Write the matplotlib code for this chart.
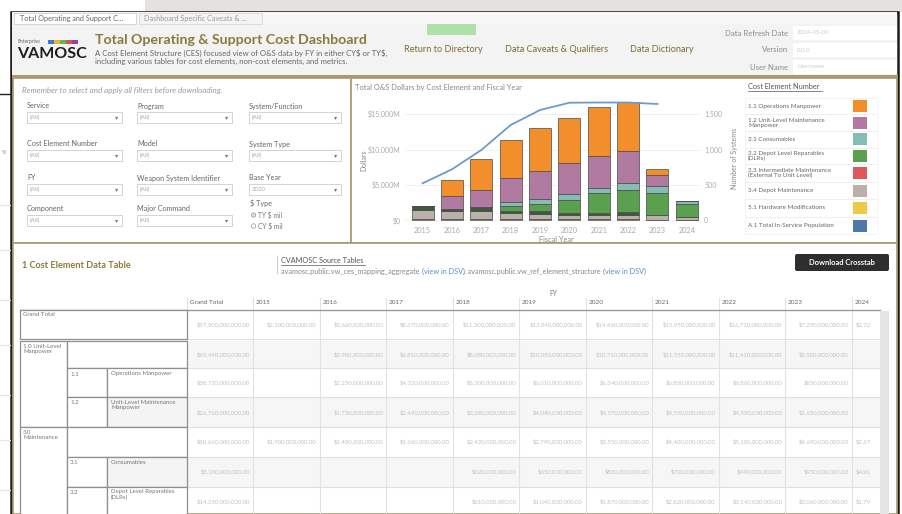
import matplotlib.pyplot as plt
from matplotlib.patches import Rectangle, FancyBboxPatch

plt.rcParams['font.family'] = ['Lato', 'DejaVu Sans']
plt.rcParams['text.parse_math'] = False

years = ['2015', '2016', '2017', '2018', '2019', '2020', '2021', '2022', '2023', '2024']
# O&S dollars by cost element, $M
ops_manpower = [0, 2250, 4320, 5300, 6010, 6340, 6800, 6860, 850, 0]
ulm_manpower = [0, 1730, 2490, 3380, 4040, 4370, 4550, 4550, 1650, 0]
consumables = [0, 0, 0, 620, 650, 800, 700, 940, 930, 460]
dlrs = [0, 0, 0, 610, 1040, 1870, 2820, 3140, 3060, 1790]
intermediate = [0, 0, 0, 0, 0, 0, 0, 0, 0, 0]
other_maint = [560, 380, 460, 320, 370, 340, 340, 480, 0, 0]
depot_maint = [1340, 1100, 1200, 870, 730, 540, 540, 540, 700, 420]
hw_mods = [200, 200, 200, 200, 200, 200, 200, 200, 100, 50]
# total in-service population (right axis)
line_years = years[:9]
population = [524, 721, 993, 1345, 1556, 1659, 1662, 1662, 1641]

legend_labels = ['1.1 Operations Manpower', '1.2 Unit-Level Maintenance\nManpower', '3.1 Consumables',
                 '3.2 Depot Level Reparables\n(DLRs)', '3.3 Intermediate Maintenance\n(External To Unit Level)',
                 '3.4 Depot Maintenance', '5.1 Hardware Modifications', 'A.1 Total In-Service Population']
legend_colors = ['#f28e2b', '#b07aa1', '#86bcb6', '#59a14f', '#e15759', '#bab0ac', '#edc948', '#4e79a7']

gold = '#a99a6b'
olive = '#7d6c2c'

fig = plt.figure(figsize=(9.02, 5.14), dpi=100)
bg = fig.add_axes([0, 0, 1, 1])
bg.set_xlim(0, 902)
bg.set_ylim(514, 0)
bg.axis('off')


def box(x, y, w, h, fc='none', ec='none', lw=0.8, z=1):
    bg.add_patch(Rectangle((x, y), w, h, facecolor=fc, edgecolor=ec, linewidth=lw, zorder=z))


def txt(x, y, s, size=4, color='#555555', **kw):
    return bg.text(x, y, s, fontsize=size, color=color, va=kw.pop('va', 'center'), **kw)


# outside / window frame
box(145, 0, 757, 12, fc='#e4e1de', z=0)
bg.plot([0, 10], [94, 94], color='#222222', lw=1)
for yy in [205, 250, 300, 345, 395, 440, 490]:
    bg.plot([0, 10], [yy, yy], color='#e6e6e6', lw=0.8)
txt(2, 152, "%'", size=3.5, color='#777777')
box(11, 12, 887, 510, fc='white', ec='#1a1a1a', lw=1.8, z=1)

# tabs
box(12, 12, 885, 12, fc='#f7f7f7', z=2)
box(14, 13, 122, 11, fc='white', ec='#cfcfcf', lw=0.6, z=3)
box(139, 13, 123, 11, fc='#f4f4f4', ec='#d8d8d8', lw=0.6, z=3)
txt(20, 18.5, 'Total Operating and Support C...', size=5.2, color='#666666', zorder=4)
txt(144, 18.5, 'Dashboard Specific Caveats & ...', size=5.2, color='#999999', zorder=4)

# header
box(12, 24, 885, 52, fc='#f3f3f3', z=2)
txt(18, 42, 'Enterprise', size=3.6, color='#666666', zorder=4)
for i, c in enumerate(['#3a7dc4', '#f0b323', '#5cb85c', '#d9534f', '#8e44ad']):
    box(48 + i * 6, 40, 6, 4, fc=c, z=4)
txt(17, 54, 'VAMOSC', size=11.5, color='#1e1e1e', weight='bold', zorder=4)
txt(95, 40, 'Total Operating & Support Cost Dashboard', size=10.2, color='#8c7a3c', weight='bold', zorder=4)
txt(95, 53, 'A Cost Element Structure (CES) focused view of O&S data by FY in either CY$ or TY$,',
    size=5.6, color='#666666', zorder=4)
txt(95, 61.5, 'including various tables for cost elements, non-cost elements, and metrics.',
    size=5.6, color='#666666', zorder=4)
box(427, 24, 49, 11, fc='#aee0a8', z=3)
for s, xc in [('Return to Directory', 443), ('Data Caveats & Qualifiers', 557), ('Data Dictionary', 662)]:
    txt(xc, 50, s, size=6.6, color=olive, ha='center', zorder=4)
for s, yy, v in [('Data Refresh Date', 33, '2024-05-06'), ('Version', 50, '0.0.0'), ('User Name', 67, 'Username')]:
    txt(788, yy, s, size=5.6, color='#8a8a8a', ha='right', zorder=4)
    box(793, yy - 7, 104, 14, fc='white', z=3)
    txt(797, yy, v, size=4.4, color='#cccccc', zorder=4)
box(12, 75, 886, 3, fc=gold, z=5)

# filter panel
box(13, 78, 338, 165, fc='white', ec=gold, lw=1.2, z=2)
txt(22, 90, 'Remember to select and apply all filters before downloading.', size=5.8,
    color='#999999', style='italic', zorder=4)
filter_labels = [['Service', 'Program', 'System/Function'],
                 ['Cost Element Number', 'Model', 'System Type'],
                 ['FY', 'Weapon System Identifier', 'Base Year'],
                 ['Component', 'Major Command', None]]
row_y = [106, 144, 178, 209]
col_x = [27, 137, 249]
for r, labels in enumerate(filter_labels):
    for c, lab in enumerate(labels):
        if lab is None:
            continue
        x0, y0 = col_x[c], row_y[r]
        txt(x0, y0, lab, size=5.2, color='#666666', zorder=4)
        bw = 95 if c < 2 else 92
        box(x0, y0 + 6, bw, 10.5, fc='white', ec='#cccccc', lw=0.6, z=3)
        txt(x0 + 3, y0 + 11.3, '2020' if lab == 'Base Year' else '(All)', size=4.4, color='#aaaaaa', zorder=4)
        txt(x0 + bw - 5, y0 + 11.3, '\u25be', size=4.5, color='#777777', ha='center', zorder=4)
txt(250, 203, '$ Type', size=5.2, color='#666666', zorder=4)
txt(258, 215, 'TY $ mil', size=4.8, color='#777777', zorder=4)
txt(258, 226, 'CY $ mil', size=4.8, color='#777777', zorder=4)
bg.scatter([253.5, 253.5], [215, 226], s=10, facecolor=['#dddddd', 'white'], edgecolor='#999999',
           linewidth=0.5, zorder=4)

# chart panel
box(351, 78, 546, 165, fc='white', ec=gold, lw=1.2, z=2)
txt(355, 87.5, 'Total O&S Dollars by Cost Element and Fiscal Year', size=5.4, color='#888888', zorder=4)
txt(364, 160, 'Dollars', size=5, color='#888888', rotation=90, ha='center', zorder=4)
txt(735, 158, 'Number of Systems', size=5, color='#888888', rotation=90, ha='center', zorder=4)
txt(556, 239.5, 'Fiscal Year', size=5.3, color='#888888', ha='center', zorder=4)

# legend
txt(748, 86.5, 'Cost Element Number', size=5.3, color='#555555', zorder=4)
bg.plot([748, 822], [90.5, 90.5], color='#555555', lw=0.5, zorder=4)
row_edges = [98, 114.3, 131, 147.7, 164.3, 182.3, 199, 216.7, 234.3]
for i, (lab, col) in enumerate(zip(legend_labels, legend_colors)):
    y0, y1 = row_edges[i], row_edges[i + 1]
    box(745, y0, 132, y1 - y0, fc='none', ec='#eeeeee', lw=0.5, z=3)
    txt(748, (y0 + y1) / 2, lab, size=4.5, color='#666666', zorder=4, linespacing=1.0)
    box(853, (y0 + y1) / 2 - 6, 14, 12, fc=col, z=4)

# bar chart
ax = fig.add_axes([405 / 902, 1 - 222.5 / 514, 295 / 902, 130.5 / 514])
ax.set_facecolor('none')
xs = list(range(len(years)))
stack = [(hw_mods, '#edc948'), (depot_maint, '#bab0ac'), (other_maint, '#3f5a3a'),
         (dlrs, '#59a14f'), (intermediate, '#e15759'), (consumables, '#86bcb6'),
         (ulm_manpower, '#b07aa1'), (ops_manpower, '#f28e2b')]
bottom = [0] * len(years)
for vals, col in stack:
    ax.bar(xs, vals, bottom=bottom, width=0.75, color=col, edgecolor='#4a4a4a', linewidth=0.5, zorder=3)
    bottom = [b + v for b, v in zip(bottom, vals)]
ax.set_xlim(-0.6, 9.45)
ax.set_ylim(-282, 18099)
ax.set_yticks([0, 5000, 10000, 15000])
ax.set_yticklabels(['$0', '$5,000M', '$10,000M', '$15,000M'])
ax.set_xticks(xs)
ax.set_xticklabels(years)
ax.tick_params(length=0, labelsize=5, labelcolor='#aaaaaa', pad=3)
ax.tick_params(axis='x', labelsize=5.3)
ax.grid(axis='y', color='#eeeeee', lw=0.6, zorder=0)
for s in ax.spines.values():
    s.set_visible(False)
ax2 = ax.twinx()
ax2.plot(range(len(line_years)), population, color='#6b9bcc', lw=1.3, zorder=5)
ax2.set_ylim(-28.2, 1809.9)
ax2.set_yticks([0, 500, 1000, 1500])
ax2.set_yticklabels(['0', '500', '1,000', '1,500'])
ax2.tick_params(length=0, labelsize=5, labelcolor='#aaaaaa', pad=3)
for s in ax2.spines.values():
    s.set_visible(False)

# table panel
box(13, 243, 884, 271, fc='white', ec=gold, lw=1.2, z=2)
txt(22, 265, '1 Cost Element Data Table', size=6.6, color='#8c7a3c', weight='bold', zorder=4)
bg.plot([277, 277], [256, 273], color='#cccccc', lw=0.8, zorder=4)
txt(281, 260.5, 'CVAMOSC Source Tables', size=5.2, color='#555555', zorder=4)
bg.plot([281, 365], [264.5, 264.5], color='#555555', lw=0.5, zorder=4)
src = [('avamosc.public.vw_ces_mapping_aggregate ', '#888888'), ('(view in DSV)', '#5b8cc0'),
       (', avamosc.public.vw_ref_element_structure ', '#888888'), ('(view in DSV)', '#5b8cc0')]
renderer = fig.canvas.get_renderer()
xx = 281
for s, c in src:
    t = bg.text(xx, 271.5, s, fontsize=5.2, color=c, va='center', zorder=4)
    xx += t.get_window_extent(renderer=renderer).width
bg.add_patch(FancyBboxPatch((795, 254), 94, 17, boxstyle='round,pad=0,rounding_size=2',
                            facecolor='#2e2e2e', edgecolor='none', zorder=4))
txt(842, 262.5, 'Download Crosstab', size=5.4, color='white', ha='center', weight='bold', zorder=5)

# table
col_w = 66.5
col0 = 186.7
txt(553, 293, 'FY', size=4.8, color='#777777', ha='center', zorder=4)
headers = ['Grand Total'] + years
for i, h in enumerate(headers):
    x0 = col0 + i * col_w
    bg.plot([x0, x0], [298, 514], color='#e2e2e2', lw=0.8, zorder=3)
    txt(x0 + 3, 303, h, size=4.6, color='#666666', zorder=4)
bg.plot([20, 880], [309.5, 309.5], color='#9a9a9a', lw=1.0, zorder=4)

maint = [a + b + c + d + e for a, b, c, d, e in zip(consumables, dlrs, intermediate, other_maint, depot_maint)]
grand = [a + b + c + d for a, b, c, d in zip(ops_manpower, ulm_manpower, maint, hw_mods)]
rows = [
    ('grand', grand),
    ('1.0', [a + b for a, b in zip(ops_manpower, ulm_manpower)]),
    ('1.1', ops_manpower),
    ('1.2', ulm_manpower),
    ('3.0', maint),
    ('3.1', consumables),
    ('3.2', dlrs),
]
row_bounds = [(310, 339), (340.7, 368.3), (368.3, 397.3), (397.3, 426.7),
              (426.7, 456.7), (456.7, 486.7), (486.7, 516)]
shaded = {'1.0', '1.2', '3.1'}
for (key, vals), (y0, y1) in zip(rows, row_bounds):
    if key in shaded:
        box(col0, y0, 880 - col0, y1 - y0, fc='#f6f6f6', z=2)
    bg.plot([col0, 880], [y1, y1], color='#e0e0e0', lw=0.8, zorder=3)
    cells = [sum(vals)] + list(vals)
    for i, v in enumerate(cells):
        if v == 0:
            continue
        s = '${:,.2f}'.format(v * 1e6)
        if i == len(cells) - 1:
            # last column is cut off by the scrollbar
            txt(856, (y0 + y1) / 2, s[:5], size=4.3, color='#c2c2c2', zorder=4)
        else:
            x1 = col0 + (i + 1) * col_w - 3
            txt(x1, (y0 + y1) / 2, s, size=4.3, color='#c2c2c2', ha='right', zorder=4)

# row header cells
lc = '#8f8f8f'
ls = 4.4
box(20, 310, col0 - 20, 28.5, fc='white', ec=lc, lw=0.9, z=4)
txt(23, 315, 'Grand Total', size=ls, color='#777777', zorder=5)
box(20, 340.7, 46.7, 86, fc='white', ec=lc, lw=0.9, z=4)
txt(23, 343.5, '1.0 Unit-Level\nManpower', size=ls, color='#777777', zorder=5, va='top', linespacing=1.15)
box(66.7, 340.7, col0 - 66.7, 27.6, fc='white', ec=lc, lw=0.9, z=4)
box(66.7, 368.3, 40, 29, fc='white', ec=lc, lw=0.9, z=4)
box(106.7, 368.3, 80, 29, fc='white', ec=lc, lw=0.9, z=4)
txt(70, 374, '1.1', size=ls, color='#777777', zorder=5)
txt(111, 374, 'Operations Manpower', size=ls, color='#777777', zorder=5)
box(66.7, 397.3, 40, 29.4, fc='white', ec=lc, lw=0.9, z=4)
box(106.7, 397.3, 80, 29.4, fc='#f4f4f4', ec=lc, lw=0.9, z=4)
txt(70, 403, '1.2', size=ls, color='#777777', zorder=5)
txt(111, 399.5, 'Unit-Level Maintenance\nManpower', size=ls, color='#777777', zorder=5,
    va='top', linespacing=1.15)
box(20, 426.7, 46.7, 90, fc='white', ec=lc, lw=0.9, z=4)
txt(23, 429.5, '3.0\nMaintenance', size=ls, color='#777777', zorder=5, va='top', linespacing=1.15)
box(66.7, 426.7, col0 - 66.7, 30, fc='white', ec=lc, lw=0.9, z=4)
box(66.7, 456.7, 40, 30, fc='white', ec=lc, lw=0.9, z=4)
box(106.7, 456.7, 80, 30, fc='#f4f4f4', ec=lc, lw=0.9, z=4)
txt(70, 462, '3.1', size=ls, color='#777777', zorder=5)
txt(111, 462, 'Consumables', size=ls, color='#777777', zorder=5)
box(66.7, 486.7, 40, 30, fc='white', ec=lc, lw=0.9, z=4)
box(106.7, 486.7, 80, 30, fc='white', ec=lc, lw=0.9, z=4)
txt(70, 492, '3.2', size=ls, color='#777777', zorder=5)
txt(111, 489, 'Depot Level Reparables\n(DLRs)', size=ls, color='#777777', zorder=5,
    va='top', linespacing=1.15)

# scrollbar
box(880, 311, 9, 203, fc='#e4e4e4', z=5)

fig.savefig('out.png', dpi=100)
